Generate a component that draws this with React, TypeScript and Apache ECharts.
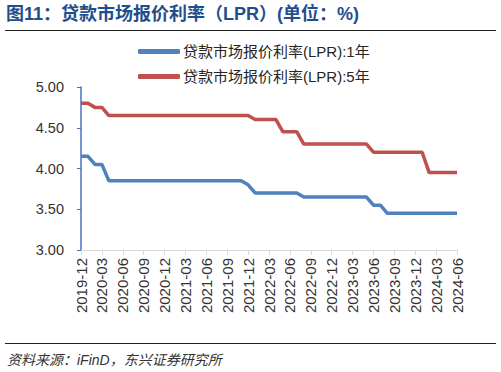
import React, { useEffect, useRef } from "react";
import * as echarts from "echarts";

const months: string[] = [];
for (let y = 2019; y <= 2024; y++) {
  for (let m = 1; m <= 12; m++) {
    const s = `${y}-${m < 10 ? "0" + m : m}`;
    if (s >= "2019-12" && s <= "2024-06") months.push(s);
  }
}

// 1-year LPR, 2019-12 .. 2024-06 (55 months)
const lpr1y: number[] = [
  4.15, 4.15, 4.05, 4.05, 3.85, 3.85, 3.85, 3.85, 3.85, 3.85, 3.85, 3.85, 3.85,
  3.85, 3.85, 3.85, 3.85, 3.85, 3.85, 3.85, 3.85, 3.85, 3.85, 3.85, 3.80,
  3.70, 3.70, 3.70, 3.70, 3.70, 3.70, 3.70, 3.65, 3.65, 3.65, 3.65, 3.65,
  3.65, 3.65, 3.65, 3.65, 3.65, 3.55, 3.55, 3.45, 3.45, 3.45, 3.45, 3.45,
  3.45, 3.45, 3.45, 3.45, 3.45, 3.45,
];
// 5-year LPR
const lpr5y: number[] = [
  4.80, 4.80, 4.75, 4.75, 4.65, 4.65, 4.65, 4.65, 4.65, 4.65, 4.65, 4.65, 4.65,
  4.65, 4.65, 4.65, 4.65, 4.65, 4.65, 4.65, 4.65, 4.65, 4.65, 4.65, 4.65,
  4.60, 4.60, 4.60, 4.60, 4.45, 4.45, 4.45, 4.30, 4.30, 4.30, 4.30, 4.30,
  4.30, 4.30, 4.30, 4.30, 4.30, 4.20, 4.20, 4.20, 4.20, 4.20, 4.20, 4.20,
  4.20, 3.95, 3.95, 3.95, 3.95, 3.95,
];

const seriesNames = ["贷款市场报价利率(LPR):1年", "贷款市场报价利率(LPR):5年"];
const titleText = "图11：贷款市场报价利率（LPR）(单位：%)";
const sourceText = "资料来源：iFinD，东兴证券研究所";

const FONT = "Liberation Sans, Arial, Noto Sans CJK SC, sans-serif";

export default function App() {
  const ref = useRef<HTMLDivElement>(null);
  useEffect(() => {
    if (!ref.current) return;
    const chart = echarts.init(ref.current, undefined, { renderer: "svg" });
    chart.setOption({
      animation: false,
      backgroundColor: "#ffffff",
      textStyle: { fontFamily: FONT },
      grid: { left: 81, right: 44, top: 87, bottom: 122 },
      legend: {
        orient: "vertical",
        left: 133,
        top: 39,
        itemWidth: 42,
        itemHeight: 5,
        itemGap: 10,
        icon: "roundRect",
        textStyle: { fontSize: 15, color: "#262626", fontFamily: FONT, padding: [0, 0, 0, -2] },
        data: seriesNames,
      },
      xAxis: {
        type: "category",
        data: months,
        boundaryGap: false,
        axisLine: { lineStyle: { color: "#d9d9d9", width: 1 } },
        axisTick: {
          show: true,
          interval: (i: number) => i % 3 === 0,
          length: 5,
          lineStyle: { color: "#d9d9d9" },
        },
        axisLabel: {
          interval: (i: number) => i % 3 === 0,
          rotate: 90,
          fontSize: 15,
          color: "#333333",
          margin: 8,
          fontFamily: FONT,
        },
        splitLine: { show: false },
      },
      yAxis: {
        type: "value",
        min: 3,
        max: 5,
        interval: 0.5,
        axisLine: { show: true, lineStyle: { color: "#4472C4", width: 1.5 } },
        axisTick: { show: true, length: 4, lineStyle: { color: "#4472C4" } },
        axisLabel: {
          fontSize: 14.5,
          color: "#333333",
          margin: 17,
          formatter: (v: number) => v.toFixed(2),
          fontFamily: FONT,
        },
        splitLine: { show: false },
      },
      series: [
        {
          name: seriesNames[0],
          type: "line",
          data: lpr1y,
          symbol: "none",
          color: "#4F81BD",
          lineStyle: { width: 3.5, color: "#4F81BD" },
        },
        {
          name: seriesNames[1],
          type: "line",
          data: lpr5y,
          symbol: "none",
          color: "#C0504D",
          lineStyle: { width: 3.5, color: "#C0504D" },
        },
      ],
      graphic: [
        {
          type: "text",
          left: 6,
          top: 5,
          style: {
            text: titleText,
            font: `bold 18px ${FONT}`,
            fill: "#1F4E8C",
          },
        },
        {
          type: "line",
          shape: { x1: 5, y1: 30.5, x2: 496, y2: 30.5 },
          style: { stroke: "#222222", lineWidth: 1 },
        },
        {
          type: "line",
          shape: { x1: 5, y1: 343.5, x2: 496, y2: 343.5 },
          style: { stroke: "#222222", lineWidth: 1 },
        },
        {
          type: "text",
          left: 7,
          top: 353,
          style: {
            text: sourceText,
            font: `italic 14px ${FONT}`,
            fill: "#333333",
          },
        },
      ],
    });
    return () => chart.dispose();
  }, []);
  return <div ref={ref} style={{ width: 501, height: 372, position: "absolute", left: 0, top: 0 }} />;
}
